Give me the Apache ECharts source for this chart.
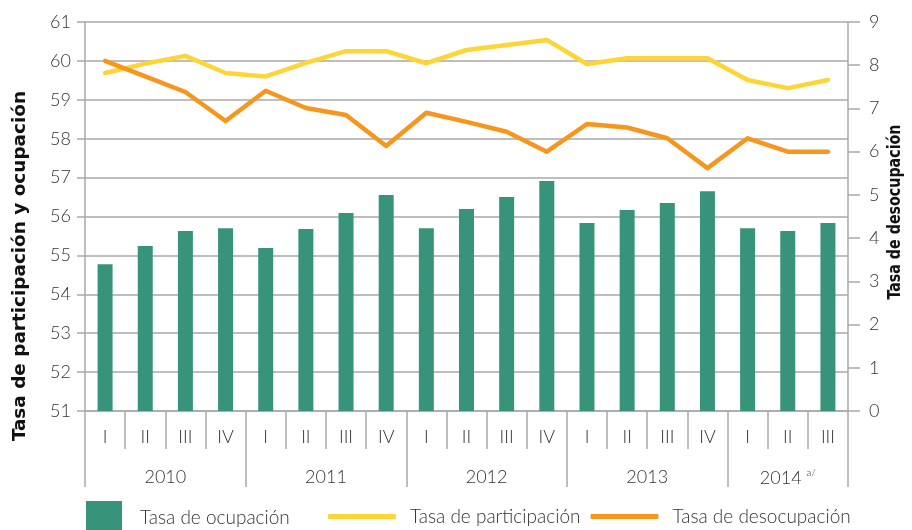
<!DOCTYPE html>
<html>
<head>
<meta charset="utf-8">
<script src="https://cdn.jsdelivr.net/npm/echarts@6/dist/echarts.min.js"></script>
<style>
html,body{margin:0;padding:0;background:#fff;}
#chart{width:912px;height:530px;}
</style>
</head>
<body>
<div id="chart"></div>
<script>
const quarters = ['I','II','III','IV','I','II','III','IV','I','II','III','IV','I','II','III','IV','I','II','III'];
const years = ['2010','2011','2012','2013','2014'];
const yearBoundaries = [0,4,8,12,16,19];
const yearCenters = [2,6,10,14,17.5];
const leftTicks = [51,52,53,54,55,56,57,58,59,60,61];
const rightTicks = [0,1,2,3,4,5,6,7,8,9];
const ocupacion = [54.77,55.24,55.63,55.70,55.19,55.68,56.09,56.55,55.70,56.19,56.50,56.91,55.83,56.17,56.35,56.65,55.70,55.63,55.83];
const participacion = [59.69,59.93,60.13,59.69,59.60,59.95,60.25,60.25,59.94,60.28,60.41,60.54,59.92,60.07,60.07,60.07,59.51,59.30,59.51];
const desocupacion = [8.10,7.74,7.38,6.71,7.41,7.01,6.85,6.13,6.90,6.69,6.46,6.00,6.64,6.56,6.31,5.62,6.31,6.00,6.00];
const leftName = 'Tasa de participación y ocupación';
const rightName = 'Tasa de desocupación';

const GRAY = '#a9a9a9';
const TXT = '#333333';
const FONT = 'Lato, "Open Sans", sans-serif';
const NAMEFONT = 'bold 17px "DejaVu Sans Condensed", Roboto, sans-serif';

function fitScale(text, target){
  const c = document.createElement('canvas').getContext('2d');
  c.font = NAMEFONT;
  return target / c.measureText(text).width;
}

const chart = echarts.init(document.getElementById('chart'), null, {renderer:'canvas'});
chart.setOption({
  animation:false,
  backgroundColor:'#fff',
  grid:{left:85,right:64,top:22,bottom:119,containLabel:false},
  legend:[
    {data:['Tasa de ocupación'],left:86,top:501,padding:0,itemWidth:36,itemHeight:34,icon:'rect',
     textStyle:{fontFamily:FONT,fontWeight:300,fontSize:19,color:TXT,padding:[0,0,0,13]}},
    {data:['Tasa de participación','Tasa de desocupación'],left:328,top:507,padding:0,itemWidth:68,itemHeight:5,itemGap:10,icon:'roundRect',
     textStyle:{fontFamily:FONT,fontWeight:300,fontSize:19,color:TXT,padding:[0,0,0,9]}}
  ],
  graphic:[
    {type:'text',x:21,y:266,rotation:Math.PI/2,scaleX:fitScale(leftName,350),silent:true,
     style:{text:leftName,font:NAMEFONT,fill:'#111',align:'center',verticalAlign:'middle'}},
    {type:'text',x:896,y:212,rotation:Math.PI/2,scaleX:fitScale(rightName,175),silent:true,
     style:{text:rightName,font:NAMEFONT,fill:'#111',align:'center',verticalAlign:'middle'}}
  ],
  xAxis:[
    {type:'category',data:quarters,boundaryGap:true,position:'bottom',
     axisLine:{show:true,lineStyle:{color:GRAY,width:1.5}},
     axisTick:{show:true,interval:0,length:38,lineStyle:{color:GRAY,width:1.5}},
     axisLabel:{interval:0,margin:17,fontFamily:FONT,fontWeight:300,fontSize:18,color:TXT}},
    {type:'value',min:0,max:19,position:'bottom',offset:38,
     axisLine:{show:false},splitLine:{show:false},
     axisTick:{show:true,customValues:yearBoundaries,length:38,lineStyle:{color:GRAY,width:1.5}},
     axisLabel:{customValues:yearCenters,margin:19,fontFamily:FONT,fontWeight:300,fontSize:18,color:TXT,
       formatter:function(v){const i=yearCenters.indexOf(v);const y=years[i];return i===4?y+' {sup|a/}':y;},
       rich:{sup:{fontFamily:FONT,fontSize:10,color:TXT,padding:[0,0,10,0]}}}}
  ],
  yAxis:[
    {type:'value',min:leftTicks[0],max:leftTicks[leftTicks.length-1],interval:1,position:'left',
     axisLine:{show:true,lineStyle:{color:GRAY,width:1.5}},
     axisTick:{show:true,length:8,lineStyle:{color:GRAY,width:1.5}},
     axisLabel:{margin:14,fontFamily:FONT,fontWeight:300,fontSize:18,color:TXT},
     splitLine:{show:true,lineStyle:{color:GRAY,width:1.5}}},
    {type:'value',min:rightTicks[0],max:rightTicks[rightTicks.length-1],interval:1,position:'right',
     axisLine:{show:true,lineStyle:{color:GRAY,width:1.5}},
     axisTick:{show:true,length:12,lineStyle:{color:GRAY,width:1.5}},
     axisLabel:{margin:21,fontFamily:FONT,fontWeight:300,fontSize:18,color:TXT},
     splitLine:{show:false}}
  ],
  series:[
    {name:'Tasa de ocupación',type:'bar',xAxisIndex:0,yAxisIndex:0,data:ocupacion,barWidth:15,
     itemStyle:{color:'#38937b'}},
    {name:'Tasa de participación',type:'line',xAxisIndex:0,yAxisIndex:0,data:participacion,
     symbol:'none',lineStyle:{color:'#fdd537',width:4.5,cap:'round',join:'round'},itemStyle:{color:'#fdd537'}},
    {name:'Tasa de desocupación',type:'line',xAxisIndex:0,yAxisIndex:1,data:desocupacion,
     symbol:'none',lineStyle:{color:'#f7961e',width:4.5,cap:'round',join:'round'},itemStyle:{color:'#f7961e'}}
  ]
});
</script>
</body>
</html>
